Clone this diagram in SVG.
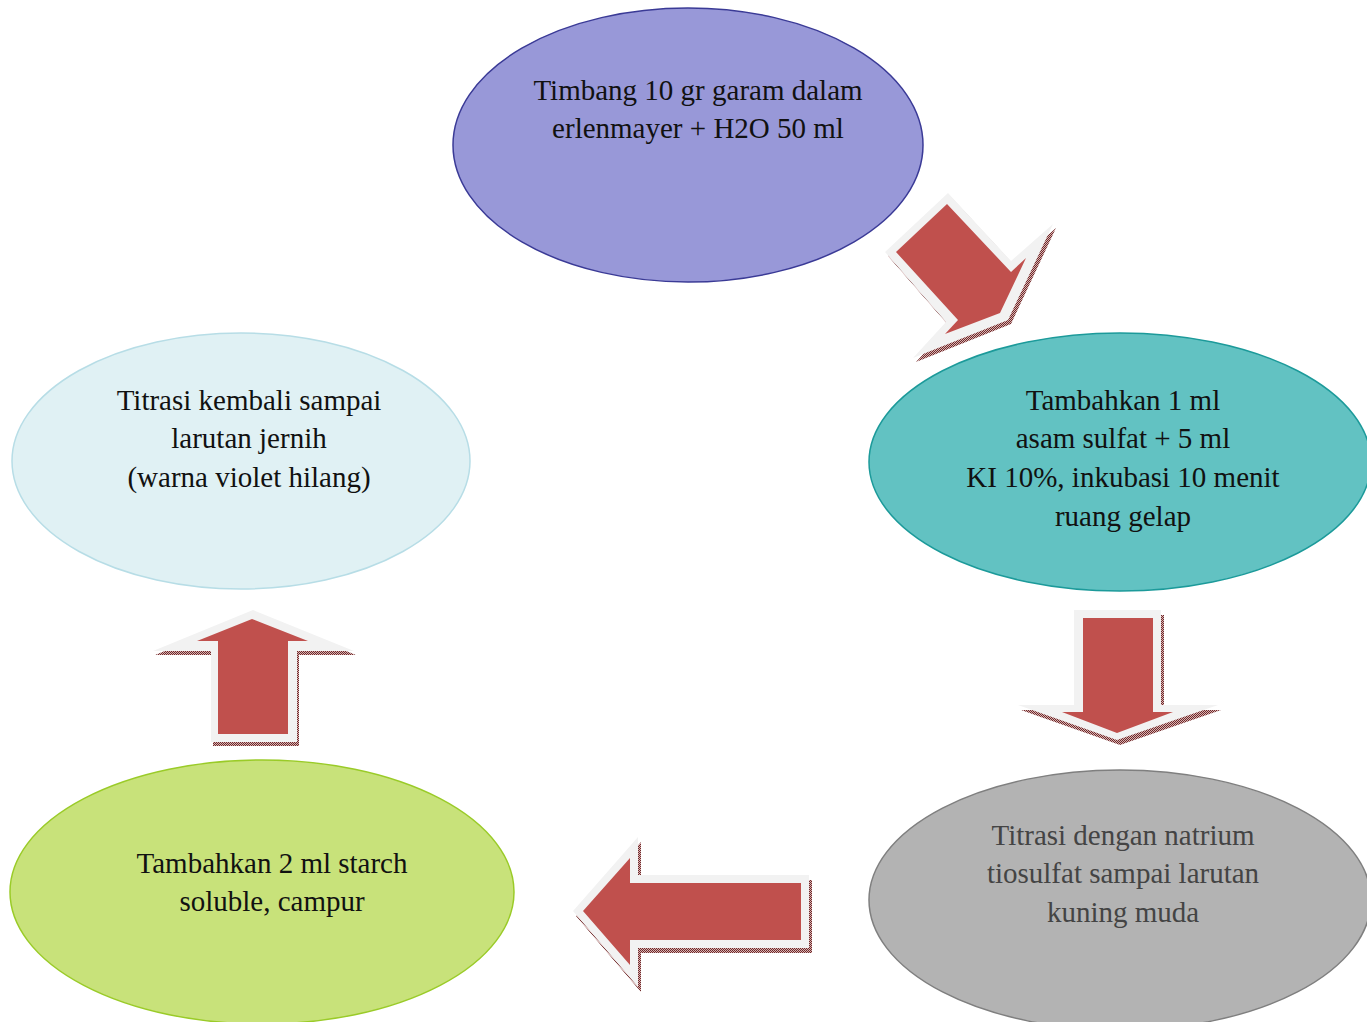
<svg xmlns="http://www.w3.org/2000/svg" width="1367" height="1022" viewBox="0 0 1367 1022">
<style>
.t{font-family:"Liberation Serif","Times New Roman",serif;font-size:29px;fill:#111;text-anchor:middle}
.g{fill:#444}
.red{fill:#c0504d}
.bev{fill:#f2f2f2}
.sh{fill:url(#shp)}
</style>
<defs>
<pattern id="shp" width="2" height="2" patternUnits="userSpaceOnUse">
<rect width="2" height="2" fill="#d9b3b3"/>
<rect width="1" height="1" fill="#6e2a2a"/>
<rect x="1" y="1" width="1" height="1" fill="#6e2a2a"/>
</pattern>
</defs>
<g id="node-timbang">
<ellipse cx="688" cy="145" rx="235" ry="137" fill="#9898d8" stroke="#3a3a96" stroke-width="1.5"/>
<text class="t" x="698" y="100">Timbang 10 gr garam dalam</text>
<text class="t" x="698" y="138">erlenmayer + H2O 50 ml</text>
</g>
<g id="node-tambah1">
<ellipse cx="1120" cy="462" rx="251" ry="129" fill="#62c2c2" stroke="#1c9a9a" stroke-width="1.5"/>
<text class="t" x="1123" y="410">Tambahkan 1 ml</text>
<text class="t" x="1123" y="448">asam sulfat + 5 ml</text>
<text class="t" x="1123" y="487">KI 10%, inkubasi 10 menit</text>
<text class="t" x="1123" y="526">ruang gelap</text>
</g>
<g id="node-titrasi1">
<ellipse cx="1120" cy="900" rx="251" ry="130" fill="#b3b3b3" stroke="#7f7f7f" stroke-width="1.5"/>
<text class="t g" x="1123" y="845">Titrasi dengan natrium</text>
<text class="t g" x="1123" y="883">tiosulfat sampai larutan</text>
<text class="t g" x="1123" y="922">kuning muda</text>
</g>
<g id="node-starch">
<ellipse cx="262" cy="892" rx="252" ry="132" fill="#c8e27a" stroke="#9acb28" stroke-width="1.5"/>
<text class="t" x="272" y="873">Tambahkan 2 ml starch</text>
<text class="t" x="272" y="911">soluble, campur</text>
</g>
<g id="node-titrasi2">
<ellipse cx="241" cy="461" rx="229" ry="128" fill="#e0f1f4" stroke="#b7dde6" stroke-width="1.5"/>
<text class="t" x="249" y="410">Titrasi kembali sampai</text>
<text class="t" x="249" y="448">larutan jernih</text>
<text class="t" x="249" y="487">(warna violet hilang)</text>
</g>
<g id="connectors">
<g id="arrow-diag">
<polygon class="sh" transform="translate(3,4)" points="885,252 948,193 1011,261 1053,224 1008,320 913,358 946,322"/>
<polygon class="bev" points="885,252 948,193 1011,261 1053,224 1008,320 913,358 946,322"/>
<polygon class="red" points="896,252 947,204 1011,272 1026,258 1000,313 945,334 958,320"/>
</g>
<g id="arrow-down">
<polygon class="sh" transform="translate(3,5)" points="1074,610 1161,610 1161,705 1218,705 1117,740 1018,705 1074,705"/>
<polygon class="bev" points="1074,610 1161,610 1161,705 1218,705 1117,740 1018,705 1074,705"/>
<polygon class="red" points="1083,618 1153,618 1153,712 1173,712 1117,733 1062,712 1083,712"/>
</g>
<g id="arrow-left">
<polygon class="sh" transform="translate(3,5)" points="573,911 638,837 638,875 809,875 809,948 638,948 638,987"/>
<polygon class="bev" points="573,911 638,837 638,875 809,875 809,948 638,948 638,987"/>
<polygon class="red" points="583,911 630,858 630,883 801,883 801,940 630,940 630,965"/>
</g>
<g id="arrow-up">
<polygon class="sh" transform="translate(2,4)" points="253,610 354,651 297,651 297,742 211,742 211,651 153,651"/>
<polygon class="bev" points="253,610 354,651 297,651 297,742 211,742 211,651 153,651"/>
<polygon class="red" points="252,619 308,641 288,641 288,734 218,734 218,641 197,641"/>
</g>
</g>
</svg>
